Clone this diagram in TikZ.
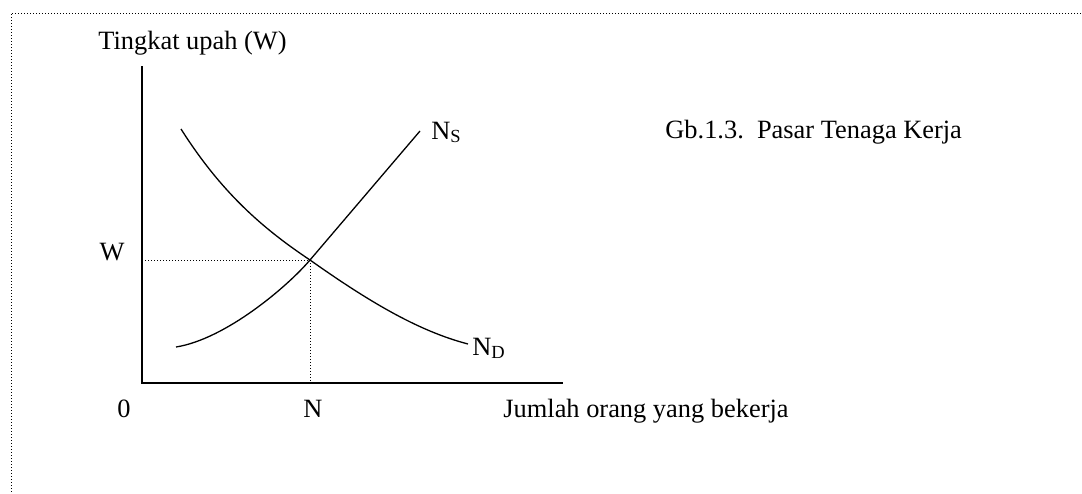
\documentclass[tikz,border=0pt]{standalone}
\usepackage{fontspec}
\setmainfont{Liberation Serif}
\usepackage{tikz}
\usetikzlibrary{calc}
\tikzset{
  axisline/.style={line width=0.65pt, draw=black},
  curveline/.style={line width=0.65pt, draw=black},
  guideline/.style={line width=0.5pt, dash pattern=on 0.5pt off 1pt, draw=black},
  framedots/.style={line width=0.5pt, dash pattern=on 0.5pt off 1pt, draw=black},
  lbl/.style={inner sep=0pt, font=\fontsize{13.2}{15}\selectfont}
}

\begin{document}
\begin{tikzpicture}[x=0.5pt, y=-0.5pt]
  \useasboundingbox (0,0) rectangle (1082,493);
  % bingkai titik-titik
  \draw[framedots] (1090,13) -- (11,13) -- (11,500);

  \coordinate (O) at (142,383);
  \coordinate (ytop) at (142,66);
  \coordinate (xend) at (563,383);
  \coordinate (E) at (310,260);
  \coordinate (ndtop) at (181,129);
  \coordinate (ndend) at (468,344);
  \coordinate (nsbot) at (176,347);
  \coordinate (nstop) at (420,131);

  % sumbu
  \draw[axisline] (ytop) -- (O) -- (xend);
  \draw[guideline] (O |- E) -- (E) -- (E |- O);

  % kurva permintaan dan penawaran
  \draw[curveline] (ndtop) .. controls (221,192) and (262,228) .. (E)
                           .. controls (368,301) and (418,331) .. (ndend);
  \draw[curveline] (nsbot) .. controls (226,339) and (288,286) .. (E) -- (nstop);

  % label
  \node[lbl, anchor=base west] (ylabel) at (98,49) {Tingkat upah (W)};
  \node[lbl, anchor=base] (zero) at (124,417) {0};
  \node[lbl, anchor=base] (nlabel) at (313,417) {N};
  \node[lbl, anchor=base] (wlabel) at (112,260) {W};
  \node[lbl, anchor=base west] (xlabel) at (503,417) {Jumlah orang yang bekerja};
  \node[lbl, anchor=base west] (ns) at (431,139) {N\textsubscript{S}};
  \node[lbl, anchor=base west] (nd) at (472,355) {N\textsubscript{D}};
  \node[lbl, anchor=base west] (caption) at (665,138) {Gb.1.3.\ \ Pasar Tenaga Kerja};
\end{tikzpicture}
\end{document}
